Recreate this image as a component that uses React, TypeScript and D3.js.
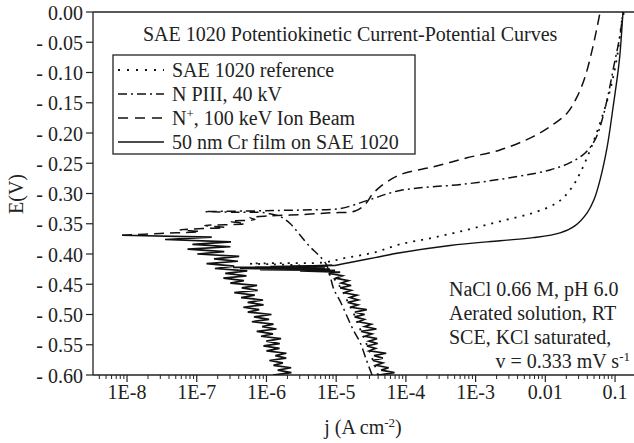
import React from 'react';
import * as d3 from 'd3';

// axis ticks
const xTickValues = [1e-8, 1e-7, 1e-6, 1e-5, 1e-4, 1e-3, 0.01, 0.1];
const xTickLabels = ['1E-8', '1E-7', '1E-6', '1E-5', '1E-4', '1E-3', '0.01', '0.1'];
const yTickValues = [0, -0.05, -0.1, -0.15, -0.2, -0.25, -0.3, -0.35, -0.4, -0.45, -0.5, -0.55, -0.6];
const yTickLabels = ['0.00', '- 0.05', '- 0.10', '- 0.15', '- 0.20', '- 0.25', '- 0.30', '- 0.35', '- 0.40', '- 0.45', '- 0.50', '- 0.55', '- 0.60'];

// series: [j (A cm-2), E (V)]
const refCurve: [number, number][] = [
  [3.99e-5, -0.6], [3.5e-5, -0.581], [2.96e-5, -0.559], [2.51e-5, -0.539], [2.13e-5, -0.52],
  [1.81e-5, -0.5], [1.48e-5, -0.48], [1.22e-5, -0.46], [1.0e-5, -0.445], [8.2e-6, -0.434],
  [5.9e-6, -0.424], [3.0e-6, -0.419], [1.13e-6, -0.417], [5.8e-7, -0.416], [1.57e-6, -0.415],
  [6.5e-6, -0.414], [1.43e-5, -0.406], [3.38e-5, -0.398], [8.26e-5, -0.384], [2.46e-4, -0.373],
  [7.55e-4, -0.36], [2.24e-3, -0.346], [6.68e-3, -0.332], [0.0148, -0.315], [0.0227, -0.294],
  [0.0316, -0.266], [0.044, -0.228], [0.0611, -0.183], [0.085, -0.129], [0.107, -0.074],
  [0.126, -0.013], [0.135, 0.0],
];

const piiiCurve: [number, number][] = [
  [3.27e-5, -0.6], [2.69e-5, -0.574], [2.2e-5, -0.546], [1.75e-5, -0.525], [1.43e-5, -0.503],
  [1.14e-5, -0.478], [9.3e-6, -0.459], [8.2e-6, -0.437], [7.2e-6, -0.417], [5.5e-6, -0.401],
  [4.2e-6, -0.388], [3.0e-6, -0.368], [2.2e-6, -0.35], [1.57e-6, -0.338], [9.5e-7, -0.332],
  [3.5e-7, -0.331], [1.3e-7, -0.33], [4.9e-7, -0.329], [1.57e-6, -0.328], [4.2e-6, -0.327],
  [1.14e-5, -0.325], [3.06e-5, -0.31], [8.26e-5, -0.295], [7.55e-4, -0.284], [3.94e-3, -0.272],
  [0.0117, -0.261], [0.0227, -0.249], [0.0372, -0.233], [0.0518, -0.211], [0.0653, -0.178],
  [0.0796, -0.137], [0.097, -0.087], [0.118, -0.038], [0.13, 0.0],
];

// N+ ion beam, noisy cathodic branch
const beamNoise: [number, number][] = [
  [1.24e-6, -0.6], [2.28e-6, -0.596], [1.45e-6, -0.592], [2.26e-6, -0.588], [1.26e-6, -0.584],
  [1.72e-6, -0.58], [1.1e-6, -0.576], [1.92e-6, -0.572], [1.34e-6, -0.568], [1.93e-6, -0.564],
  [1.0e-6, -0.56], [1.54e-6, -0.556], [9.05e-7, -0.552], [1.55e-6, -0.548], [9.94e-7, -0.544],
  [1.62e-6, -0.54], [8.37e-7, -0.536], [1.24e-6, -0.532], [7.25e-7, -0.528], [1.39e-6, -0.524],
  [8.67e-7, -0.52], [1.26e-6, -0.516], [6.17e-7, -0.512], [1.09e-6, -0.508], [6.61e-7, -0.504],
  [1.18e-6, -0.5], [5.39e-7, -0.496], [7.87e-7, -0.492], [4.66e-7, -0.488], [9.08e-7, -0.484],
  [5.37e-7, -0.48], [8.93e-7, -0.476], [4.33e-7, -0.472], [6.79e-7, -0.468], [3.45e-7, -0.464],
  [7.48e-7, -0.46], [4.43e-7, -0.456], [7.33e-7, -0.452], [3.03e-7, -0.448], [4.75e-7, -0.444],
  [2.41e-7, -0.44], [5.16e-7, -0.436], [2.56e-7, -0.432], [5.3e-7, -0.428], [1.82e-7, -0.424],
  [3.45e-7, -0.42], [1.38e-7, -0.416], [3.9e-7, -0.412], [1.77e-7, -0.408], [4.06e-7, -0.404],
  [1.02e-7, -0.4], [2.48e-7, -0.396], [7.38e-8, -0.392], [3.04e-7, -0.388], [8.67e-8, -0.384],
  [3.1e-7, -0.38], [3.51e-8, -0.376], [1.64e-7, -0.372], [8.5e-9, -0.369],
];

const beamCurve: [number, number][] = [
  [8.5e-9, -0.369], [2.97e-8, -0.366], [1.11e-7, -0.363], [5.75e-8, -0.36], [2.55e-7, -0.356],
  [1.31e-7, -0.353], [4.93e-7, -0.35], [3.0e-7, -0.346], [6.86e-7, -0.343], [5.82e-7, -0.34],
  [1.13e-6, -0.337], [3.03e-6, -0.335], [8.17e-6, -0.332], [1.87e-5, -0.329], [2.6e-5, -0.318],
  [3.27e-5, -0.302], [4.26e-5, -0.289], [8.26e-5, -0.269], [2.46e-4, -0.256], [7.55e-4, -0.241],
  [2.24e-3, -0.228], [6.68e-3, -0.206], [0.0129, -0.186], [0.0206, -0.167], [0.0286, -0.14],
  [0.0372, -0.107], [0.0469, -0.063], [0.0553, -0.025], [0.0611, 0.0],
];

// Cr film, noisy cathodic branch and the band at the corrosion potential
const crNoise: [number, number][] = [
  [4.06e-5, -0.6], [6.86e-5, -0.596], [4.42e-5, -0.592], [5.66e-5, -0.588], [3.72e-5, -0.584],
  [4.67e-5, -0.58], [3.35e-5, -0.576], [4.67e-5, -0.572], [3.49e-5, -0.568], [5.21e-5, -0.564],
  [3.0e-5, -0.56], [3.68e-5, -0.556], [2.76e-5, -0.552], [3.94e-5, -0.548], [2.94e-5, -0.544],
  [3.86e-5, -0.54], [2.59e-5, -0.536], [3.26e-5, -0.532], [2.28e-5, -0.528], [3.78e-5, -0.524],
  [2.55e-5, -0.52], [3.18e-5, -0.516], [2.08e-5, -0.512], [2.54e-5, -0.508], [1.84e-5, -0.504],
  [2.56e-5, -0.5], [1.86e-5, -0.496], [2.75e-5, -0.492], [1.61e-5, -0.488], [2.05e-5, -0.484],
  [1.46e-5, -0.48], [2.07e-5, -0.476], [1.57e-5, -0.472], [1.99e-5, -0.468], [1.29e-5, -0.464],
  [1.64e-5, -0.46], [1.14e-5, -0.456], [1.64e-5, -0.452], [1.18e-5, -0.448], [1.5e-5, -0.444],
  [9.84e-6, -0.44], [1.23e-5, -0.436], [7.9e-6, -0.432],
  [1.14e-5, -0.43], [3.03e-6, -0.428], [9.64e-6, -0.427], [8.09e-7, -0.426], [8.16e-6, -0.425],
  [4.18e-7, -0.424], [6.93e-6, -0.423], [3.31e-7, -0.422], [5.87e-6, -0.421], [5.82e-7, -0.422],
  [7.65e-6, -0.42], [1.13e-6, -0.421], [8.74e-6, -0.419], [2.18e-6, -0.42], [9.6e-6, -0.419],
];

const crCurve: [number, number][] = [
  [9.6e-6, -0.419], [1.58e-5, -0.414], [3.61e-5, -0.406], [8.26e-5, -0.398], [4.3e-4, -0.386],
  [2.24e-3, -0.378], [6.68e-3, -0.373], [0.0163, -0.365], [0.0268, -0.353], [0.0398, -0.332],
  [0.05, -0.31], [0.0611, -0.277], [0.0771, -0.223], [0.0938, -0.157], [0.111, -0.096],
  [0.118, -0.068], [0.13, 0.0],
];

const legendLabels = ['SAE 1020 reference', 'N PIII, 40 kV', 'N^+^, 100 keV Ion Beam', '50 nm Cr film on SAE 1020'];
const legendDashes = ['2 7', '9 4 2 4', '10 7', ''];

const notes = ['NaCl 0.66 M, pH 6.0', 'Aerated solution, RT', 'SCE, KCl saturated,'];

const FONT = '"Liberation Serif", "Times New Roman", serif';

function Label({ text }: { text: string }) {
  const parts = text.split('^');
  if (parts.length < 3) return <>{text}</>;
  return (
    <>
      {parts[0]}
      <tspan dy={-7} fontSize={13}>{parts[1]}</tspan>
      <tspan dy={7}>{parts[2]}</tspan>
    </>
  );
}

export default function App() {
  const left = 93, right = 634, top = 12, bottom = 375;

  const x = d3.scaleLog().domain([3.25e-9, 0.187]).range([left, right]);
  const y = d3.scaleLinear().domain([-0.6, 0]).range([bottom, top]);

  const smooth = d3.line<[number, number]>()
    .x(d => x(d[0]))
    .y(d => y(d[1]))
    .curve(d3.curveCatmullRom.alpha(0.5));
  const jagged = d3.line<[number, number]>()
    .x(d => x(d[0]))
    .y(d => y(d[1]));

  // minor ticks 2..9 of each decade
  const minorTicks: number[] = [];
  for (let e = -9; e <= -1; e++) {
    for (let m = 2; m <= 9; m++) {
      const v = m * Math.pow(10, e);
      if (x(v) >= left && x(v) <= right) minorTicks.push(v);
    }
  }

  const legendRows = [70, 94, 118, 142];

  return (
    <svg width={634} height={443} style={{ position: 'absolute', left: 0, top: 0, background: '#fff' }}
      fontFamily={FONT} fontSize={20}>
      <defs>
        <clipPath id="plot">
          <rect x={left} y={top - 1} width={right - left} height={bottom - top + 1} />
        </clipPath>
      </defs>

      {/* frame */}
      <line x1={left} x2={right} y1={top} y2={top} stroke="#222" strokeWidth={1.3} />
      <line x1={left} x2={left} y1={top} y2={bottom} stroke="#222" strokeWidth={1.3} />
      <line x1={left} x2={right} y1={bottom} y2={bottom} stroke="#222" strokeWidth={1.3} />

      {/* y axis */}
      {yTickValues.map((v, i) => (
        <g key={i}>
          <line x1={left - 7} x2={left} y1={y(v)} y2={y(v)} stroke="#222" strokeWidth={1.2} />
          <text x={83} y={y(v) + 7.5} textAnchor="end" fill="#222">{yTickLabels[i]}</text>
        </g>
      ))}
      <text transform={`translate(23, 194) rotate(-90)`} textAnchor="middle" fill="#222">E(V)</text>

      {/* x axis */}
      {minorTicks.map((v, i) => (
        <line key={i} x1={x(v)} x2={x(v)} y1={bottom} y2={bottom + 4} stroke="#222" strokeWidth={1} />
      ))}
      {xTickValues.map((v, i) => (
        <g key={i}>
          <line x1={x(v)} x2={x(v)} y1={bottom} y2={bottom + 7} stroke="#222" strokeWidth={1.2} />
          <text x={x(v)} y={399} textAnchor="middle" fill="#222">{xTickLabels[i]}</text>
        </g>
      ))}
      <text x={363} y={434} textAnchor="middle" fill="#222">
        j (A cm<tspan dy={-7} fontSize={13}>-2</tspan><tspan dy={7}>)</tspan>
      </text>

      {/* curves */}
      <g clipPath="url(#plot)" fill="none" stroke="#111">
        <path d={jagged(beamNoise) || ''} strokeWidth={1.7} />
        <path d={jagged(crNoise) || ''} strokeWidth={1.7} />
        <path d={smooth(refCurve) || ''} strokeWidth={1.8} strokeDasharray="2 6" />
        <path d={smooth(piiiCurve) || ''} strokeWidth={1.5} strokeDasharray="9 4 2 4" />
        <path d={smooth(beamCurve) || ''} strokeWidth={1.5} strokeDasharray="10 6" />
        <path d={smooth(crCurve) || ''} strokeWidth={1.4} />
      </g>

      {/* title */}
      <text x={143} y={41} fill="#222">SAE 1020 Potentiokinetic Current-Potential Curves</text>

      {/* legend */}
      <rect x={113} y={55} width={302} height={99} fill="#fff" stroke="#222" strokeWidth={1.3} />
      {legendLabels.map((lab, i) => (
        <g key={i}>
          <line x1={118} x2={164} y1={legendRows[i]} y2={legendRows[i]} stroke="#111"
            strokeWidth={i === 0 ? 1.8 : 1.5} strokeDasharray={legendDashes[i] || undefined} />
          <text x={172} y={legendRows[i] + 7} fill="#222"><Label text={lab} /></text>
        </g>
      ))}

      {/* conditions */}
      {notes.map((t, i) => (
        <text key={i} x={449} y={296 + i * 24} fill="#222">{t}</text>
      ))}
      <text x={630} y={368} textAnchor="end" fill="#222">
        v = 0.333 mV s<tspan dy={-7} fontSize={13}>-1</tspan>
      </text>
    </svg>
  );
}
